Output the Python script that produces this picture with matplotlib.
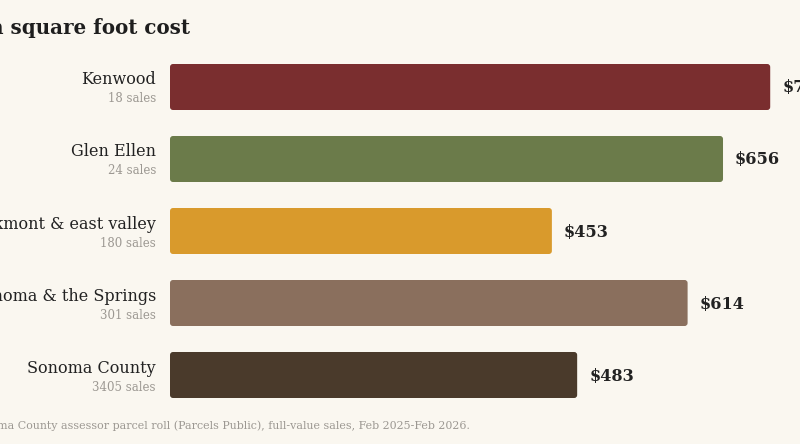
import matplotlib.pyplot as plt
from matplotlib.patches import FancyBboxPatch

areas = ['Kenwood', 'Glen Ellen', 'Oakmont & east valley', 'Sonoma & the Springs', 'Sonoma County']
sales = [18, 24, 180, 301, 3405]
cost = [712, 656, 453, 614, 483]
colors = ['#7a2e2f', '#6b7b4a', '#d99a2c', '#8a6f5d', '#4a3a2b']

bg = '#faf7f0'
W, H = 800, 444

fig = plt.figure(figsize=(W / 100, H / 100), dpi=100, facecolor=bg)
# axes placed in pixel terms: bars start at x=170, rows are 72px apart
ax = fig.add_axes([170 / W, (H - 411) / H, 630 / W, 360 / H])
ax.set_facecolor(bg)
xmax = 630 / 0.843
ax.set_xlim(0, xmax)
ax.set_ylim(len(areas) - 0.5, -0.5)
ax.axis('off')

# rounded bars
xpp = xmax / 630       # data units per pixel, x
ypp = 1 / 72           # data units per pixel, y
r = 3 * xpp
bh = 46 / 72
for i, (v, c) in enumerate(zip(cost, colors)):
    p = FancyBboxPatch((0, i - bh / 2), v, bh,
                       boxstyle='round,pad=0,rounding_size=%f' % r,
                       mutation_aspect=ypp / xpp, fc=c, ec='none')
    ax.add_patch(p)
    ax.annotate('$%d' % v, (v, i), xytext=(12, -1), textcoords='offset pixels',
                ha='left', va='center', family='DejaVu Serif', fontsize=11.6,
                fontweight='bold', color='#222222', annotation_clip=False)
    ax.annotate(areas[i], (0, i), xytext=(-14, 7), textcoords='offset pixels',
                ha='right', va='center', family='DejaVu Serif', fontsize=11.5,
                color='#222222', annotation_clip=False)
    ax.annotate('%d sales' % sales[i], (0, i), xytext=(-14, -12), textcoords='offset pixels',
                ha='right', va='center', family='DejaVu Serif', fontsize=8.5,
                color='#9c9892', annotation_clip=False)

fig.text(190 / W, 1 - 28 / H, 'Median square foot cost', ha='right', va='center',
         family='DejaVu Serif', fontsize=14.3, fontweight='bold', color='#1e1e1e')
fig.text(470 / W, 1 - 426 / H,
         'Source: Sonoma County assessor parcel roll (Parcels Public), full-value sales, Feb 2025-Feb 2026.',
         ha='right', va='center', family='DejaVu Serif', fontsize=7.9, color='#9c9892')

plt.savefig('out.png', dpi=100, facecolor=bg)
